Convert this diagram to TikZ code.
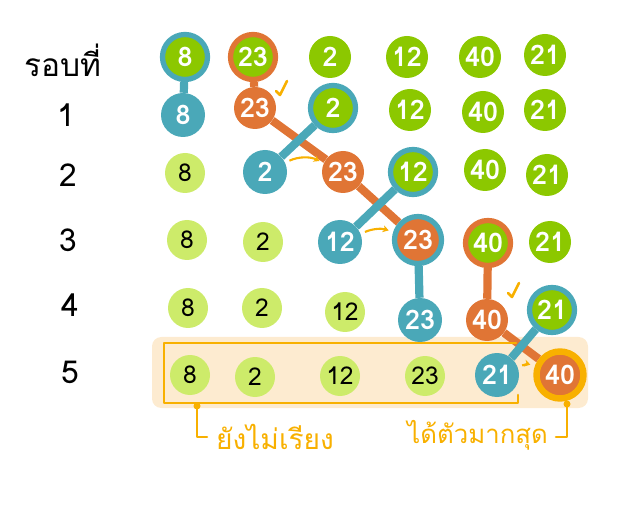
\documentclass[tikz,border=0pt]{standalone}
\usepackage{fontspec}
\setmainfont[Script=Thai]{Loma}
\usetikzlibrary{backgrounds,arrows.meta}
\definecolor{cgreen}{HTML}{8CC800}
\definecolor{cteal}{HTML}{4AA8B8}
\definecolor{corange}{HTML}{E07535}
\definecolor{clight}{HTML}{CDEB6A}
\definecolor{cyellow}{HTML}{F8B000}
\definecolor{ccream}{HTML}{FDEBD0}
\tikzset{
  x=0.03cm, y=-0.03cm,
  num/.style={circle, inner sep=0pt, minimum size=42*0.03cm, font=\fontsize{23}{23}\selectfont\bfseries, text=white},
  gr/.style={num, fill=cgreen},
  lg/.style={num, fill=clight, text=black, minimum size=40*0.03cm, font=\fontsize{21}{21}\selectfont},
  tl/.style={num, fill=cteal, minimum size=44*0.03cm},
  og/.style={num, fill=corange, minimum size=42*0.03cm},
  grt/.style={gr, draw=cteal, line width=4.5pt, minimum size=45*0.03cm},
  gro/.style={gr, draw=corange, line width=4.5pt, minimum size=45*0.03cm},
  ort/.style={og, draw=cteal, line width=4.5pt, minimum size=47*0.03cm},
  ory/.style={og, draw=cyellow, line width=5.5pt, minimum size=47*0.03cm},
  tline/.style={draw=cteal, line width=7pt},
  oline/.style={draw=corange, line width=7pt},
  yarrow/.style={draw=cyellow, line width=1.8pt, -{Stealth[length=5pt,width=6pt]}, shorten <=4pt, shorten >=4pt},
  ypen/.style={draw=cyellow, line width=2.2pt, line cap=round, line join=round},
  rowlab/.style={font=\fontsize{27}{27}\selectfont, text=black},
  thlab/.style={font=\fontsize{24}{24}\selectfont, text=cyellow},
}
\begin{document}
\begin{tikzpicture}
\useasboundingbox (0,0) rectangle (640,512);
% row labels
\node[rowlab] (lab0) at (63,60) {รอบที่};
\node[rowlab] (lab1) at (66,115) {1};
\node[rowlab] (lab2) at (68,175) {2};
\node[rowlab] (lab3) at (68,240) {3};
\node[rowlab] (lab4) at (70,305) {4};
\node[rowlab] (lab5) at (70,372) {5};
% row 0
\node[grt] (a8) at (185,57) {8};
\node[gro] (a23) at (253,57) {23};
\node[gr] (a2) at (330,57) {2};
\node[gr] (a12) at (407,57) {12};
\node[gr] (a40) at (480,57) {40};
\node[gr] (a21) at (545,55) {21};
% row 1
\node[tl] (b8) at (183,115) {8};
\node[og] (b23) at (255,108) {23};
\node[grt] (b2) at (333,108) {2};
\node[gr] (b12) at (410,110) {12};
\node[gr] (b40) at (483,112) {40};
\node[gr] (b21) at (545,110) {21};
% row 2
\node[lg] (c8) at (185,173) {8};
\node[tl] (c2) at (265,172) {2};
\node[og] (c23) at (343,172) {23};
\node[grt] (c12) at (413,172) {12};
\node[gr] (c40) at (485,170) {40};
\node[gr] (c21) at (547,175) {21};
% row 3
\node[lg] (d8) at (187,240) {8};
\node[lg] (d2) at (263,242) {2};
\node[tl] (d12) at (340,242) {12};
\node[ort] (d23) at (418,240) {23};
\node[gro] (d40) at (488,243) {40};
\node[gr] (d21) at (550,242) {21};
% row 4
\node[lg] (e8) at (188,308) {8};
\node[lg] (e2) at (262,308) {2};
\node[lg] (e12) at (345,312) {12};
\node[tl] (e23) at (420,320) {23};
\node[og] (e40) at (487,320) {40};
\node[grt] (e21) at (552,310) {21};
% row 5
\node[lg] (f8) at (190,375) {8};
\node[lg] (f2) at (255,377) {2};
\node[lg] (f12) at (340,376) {12};
\node[lg] (f23) at (425,376) {23};
\node[tl] (f21) at (497,375) {21};
\node[ory] (f40) at (560,375) {40};
% bottom labels
\node[thlab, anchor=west] (notsorted) at (212,437) {ยังไม่เรียง};
\node[thlab, anchor=east, font=\fontsize{22}{22}\selectfont] (maxval) at (552,435) {ได้ตัวมากสุด};
\begin{scope}[on background layer]
  \fill[ccream, rounded corners=8pt] (152,337) rectangle (588,408);
  \draw[tline] (a8) -- (b8);
  \draw[oline] (a23) -- (b23) -- (c23) -- (d23);
  \draw[tline] (b2) -- (c2);
  \draw[tline] (c12) -- (d12);
  \draw[tline] (d23) -- (e23);
  \draw[oline] (d40) -- (e40) -- (f40);
  \draw[tline] (e21) -- (f21);
\end{scope}
% bracket
\draw[ypen] (516,343) -- (164,343) -- (164,403) -- (518,403) -- (518,395);
\fill[cyellow] (197,406) circle (3.5);
\draw[ypen] (197,406) -- (197,437) -- (207,437);
\fill[cyellow] (567,404) circle (3.5);
\draw[ypen] (567,404) -- (567,437) -- (556,437);
% small arrows
\draw[yarrow] (c2) to[bend left=25] (c23);
\draw[yarrow] (d12) to[bend left=20] (d23);
\draw[yarrow] (f21) to[bend left=20] (f40);
% check marks
\draw[ypen] (b23.north east) ++(6,-2) -- ++(4,4) -- ++(7,-14);
\draw[ypen] (e40.north east) ++(6,-12) -- ++(4,4) -- ++(7,-14);
\end{tikzpicture}
\end{document}
